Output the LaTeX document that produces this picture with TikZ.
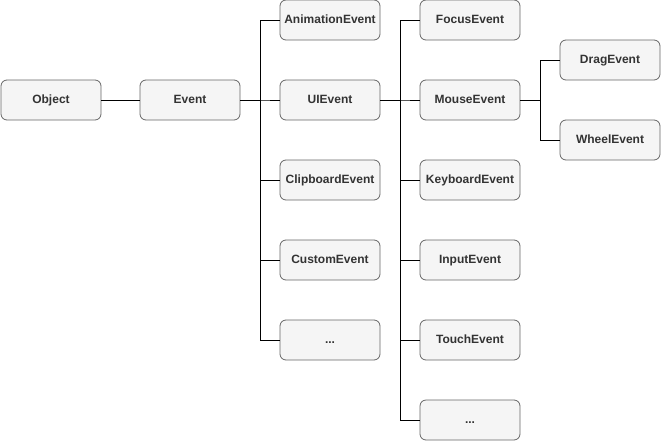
\documentclass[tikz,border=0pt]{standalone}
\usepackage{fontspec}
\setmainfont{Liberation Sans}
\definecolor{boxfill}{HTML}{F5F5F5}
\definecolor{boxline}{HTML}{666666}
\definecolor{boxtext}{HTML}{333333}
\begin{document}
\begin{tikzpicture}[x=1pt,y=-1pt,
  box/.style={draw=boxline,fill=boxfill,rounded corners=6pt,minimum width=100pt,minimum height=40pt,
    inner sep=0pt,text height=8.7pt,text depth=2.5pt,font=\fontsize{12}{14}\selectfont\bfseries,text=boxtext,line width=0.8pt},
  conn/.style={draw=black,line width=0.8pt}]
\useasboundingbox (0,0) rectangle (661,442);
\node[box] (object) at (51,100) {Object};
\node[box] (event) at (190,100) {Event};
\node[box] (anim) at (330,20) {AnimationEvent};
\node[box] (ui) at (330,100) {UIEvent};
\node[box] (clip) at (330,180) {ClipboardEvent};
\node[box] (custom) at (330,260) {CustomEvent};
\node[box] (dots1) at (330,340) {...};
\node[box] (focus) at (470,20) {FocusEvent};
\node[box] (mouse) at (470,100) {MouseEvent};
\node[box] (key) at (470,180) {KeyboardEvent};
\node[box] (input) at (470,260) {InputEvent};
\node[box] (touch) at (470,340) {TouchEvent};
\node[box] (dots2) at (470,420) {...};
\node[box] (drag) at (610,60) {DragEvent};
\node[box] (wheel) at (610,140) {WheelEvent};
\draw[conn] (object.east) -- (event.west);
\foreach \c in {anim,ui,clip,custom,dots1}
  \draw[conn] (event.east) -- ++(20,0) |- (\c.west);
\foreach \c in {focus,mouse,key,input,touch,dots2}
  \draw[conn] (ui.east) -- ++(20,0) |- (\c.west);
\foreach \c in {drag,wheel}
  \draw[conn] (mouse.east) -- ++(20,0) |- (\c.west);
\end{tikzpicture}
\end{document}
